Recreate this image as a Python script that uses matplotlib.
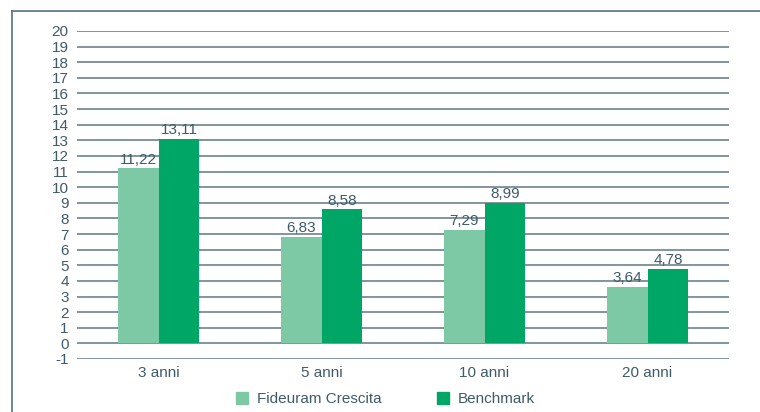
import matplotlib.pyplot as plt
import numpy as np
from matplotlib.lines import Line2D
from matplotlib.patches import Patch

# Dati
categorie = ['3 anni', '5 anni', '10 anni', '20 anni']
fideuram = [11.22, 6.83, 7.29, 3.64]
benchmark = [13.11, 8.58, 8.99, 4.78]
serie = ['Fideuram Crescita', 'Benchmark']

colChiaro = '#7dc9a6'
colScuro = '#00a665'
colTesto = '#3f5b6a'
colGriglia = '#5f7885'

plt.rcParams['font.family'] = ['Liberation Sans', 'DejaVu Sans']
plt.rcParams['axes.unicode_minus'] = False

fig = plt.figure(figsize=(7.6, 4.12), dpi=100)
ax = fig.add_axes([77/760, 1-359/412, (729-77)/760, (359-31)/412])

x = np.arange(len(categorie))
w = 0.25
b1 = ax.bar(x - w/2, fideuram, w, color=colChiaro, zorder=2)
b2 = ax.bar(x + w/2, benchmark, w, color=colScuro, zorder=2)

# Etichette valori
for rects, vals in [(b1, fideuram), (b2, benchmark)]:
    for r, v in zip(rects, vals):
        ax.text(r.get_x() + r.get_width()/2, v + 0.1, f"{v:.2f}".replace('.', ','),
                ha='center', va='bottom', fontsize=11, color=colTesto, zorder=3)

ax.set_xlim(-0.5, len(categorie) - 0.5)
ax.set_ylim(-1, 20)
ax.set_yticks(range(-1, 21))
ax.set_xticks(x)
ax.set_xticklabels(categorie)
for yv in range(-1, 21):
    ax.axhline(yv, color=colGriglia, lw=1.1, zorder=1)

for s in ax.spines.values():
    s.set_visible(False)
ax.tick_params(axis='both', length=0, labelsize=11, colors=colTesto)
ax.tick_params(axis='y', pad=6)
ax.tick_params(axis='x', pad=5)

# Legenda
handles = [Patch(color=colChiaro), Patch(color=colScuro)]
fig.legend(handles, serie, loc='center', bbox_to_anchor=(385.5/760, 1-399/412), ncol=2,
           frameon=False, fontsize=11, labelcolor=colTesto, handlelength=0.8,
           handleheight=0.8, columnspacing=3.65, handletextpad=0.55)

# Cornice
fig.add_artist(Line2D([12/760, 1], [1-11/412, 1-11/412], color='#55707e', lw=1.2))
fig.add_artist(Line2D([12/760, 12/760], [0, 1-11/412], color='#55707e', lw=1.2))

fig.savefig('out.png', dpi=100)
